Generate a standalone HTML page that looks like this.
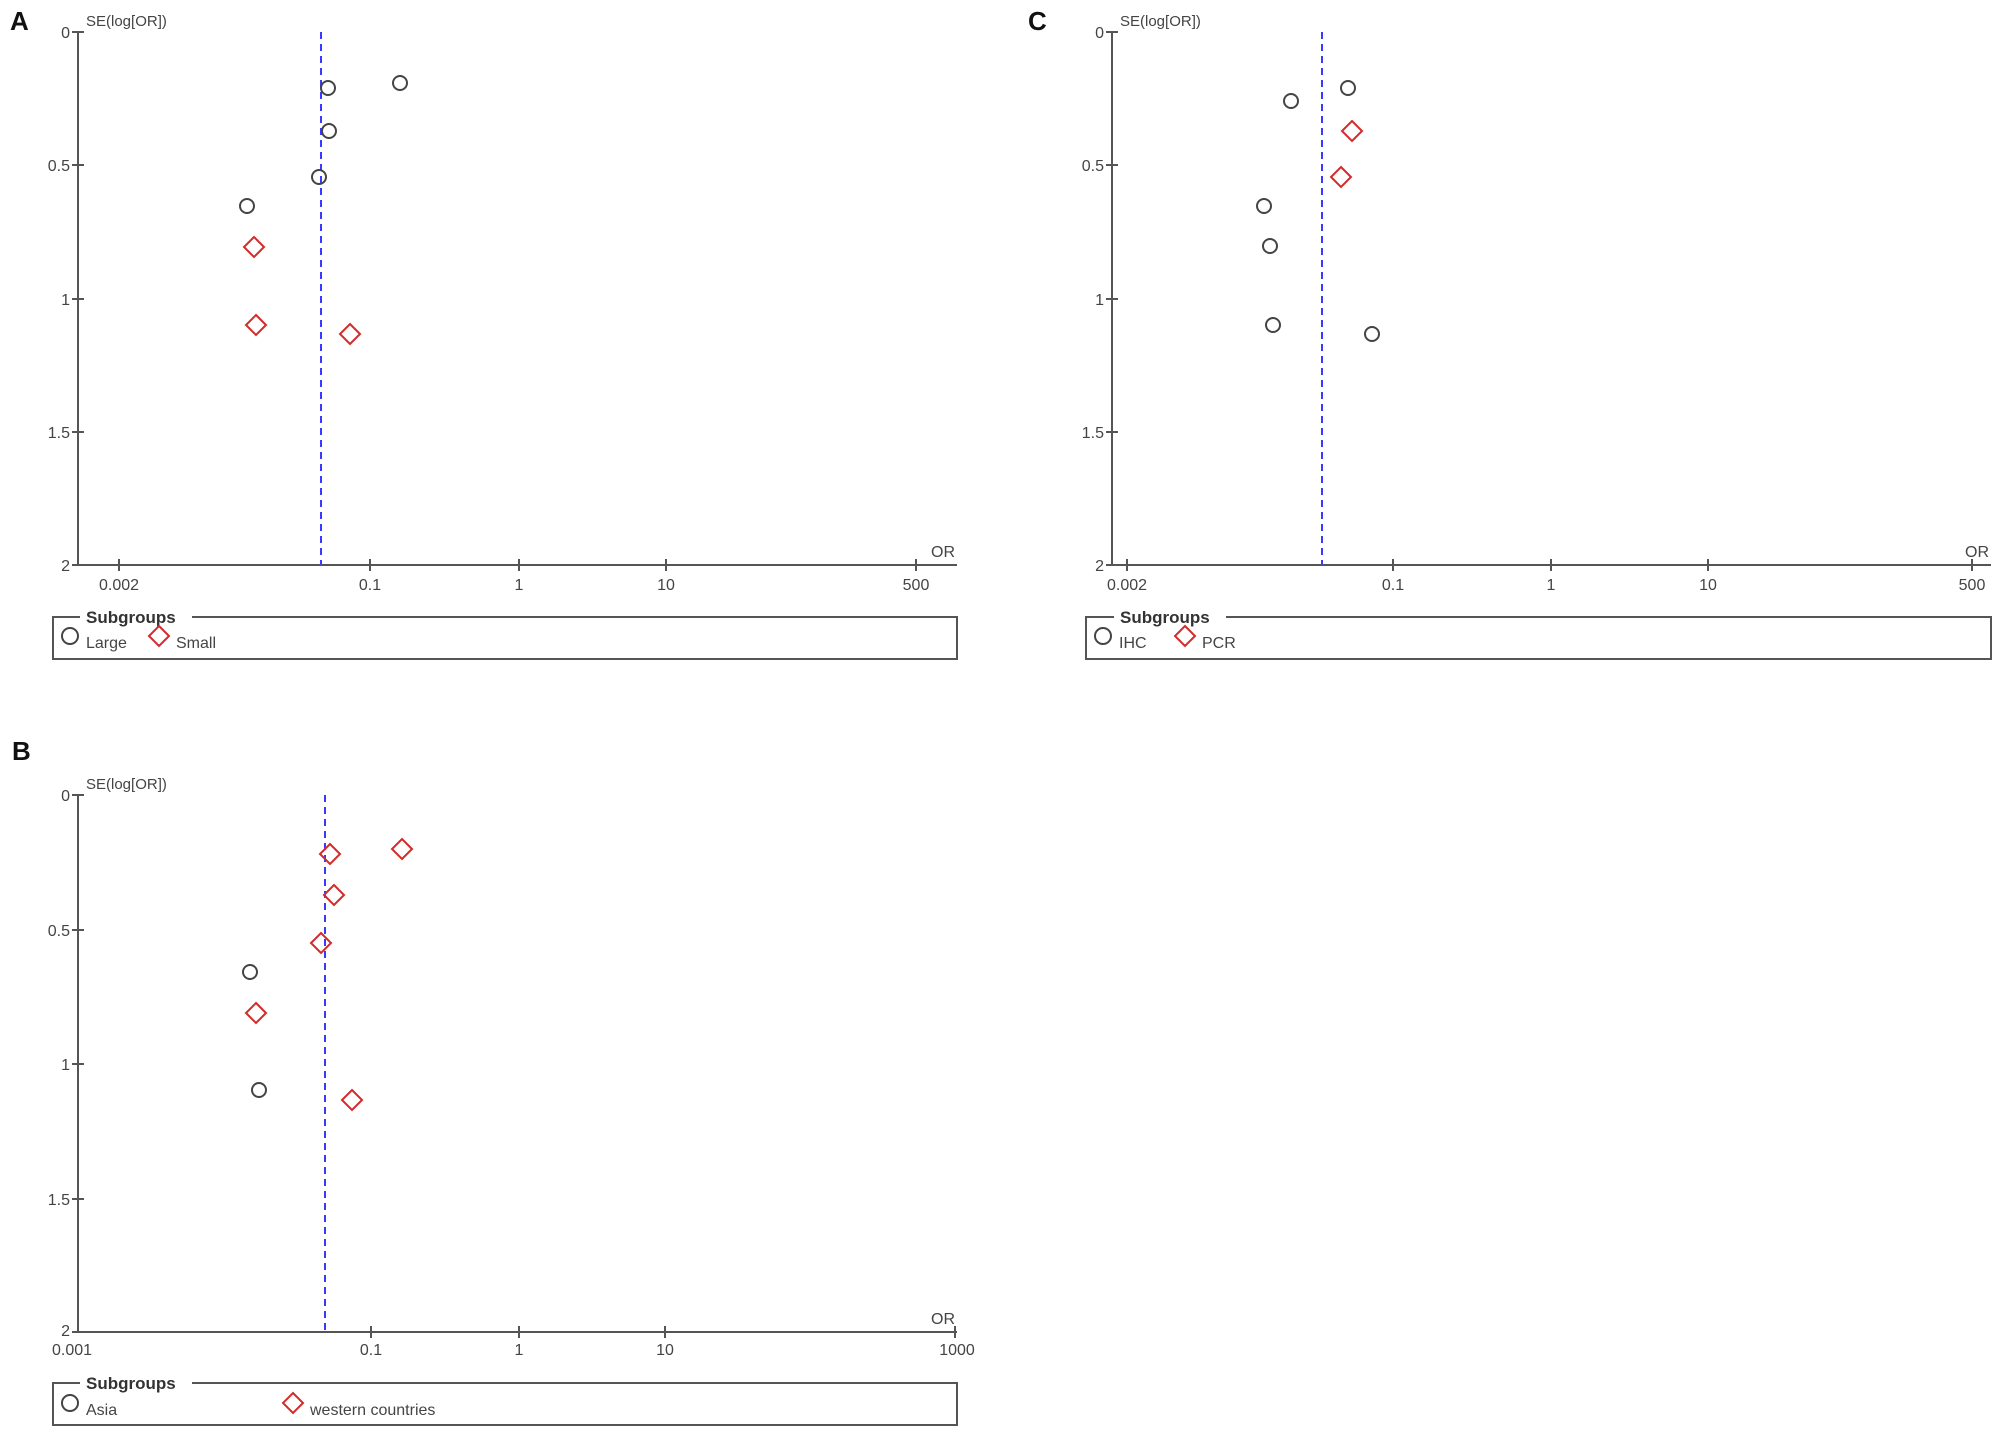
<!DOCTYPE html>
<html><head><meta charset="utf-8"><style>
html,body{margin:0;padding:0;background:#fff}
svg{display:block}
text{font-family:"Liberation Sans",Arial,sans-serif}
.t{font-size:16px;fill:#444}
.ax{stroke:#555;stroke-width:2;fill:none}
.c{fill:none;stroke:#444;stroke-width:2}
.d{fill:none;stroke:#d42a2a;stroke-width:2}
.dash{stroke:#3a3aff;stroke-width:2;stroke-dasharray:7,5}
.lab{font-size:26px;font-weight:bold;fill:#111}
.sg{font-size:17px;font-weight:bold;fill:#333}
</style></head><body>
<svg width="2008" height="1442" viewBox="0 0 2008 1442" xmlns="http://www.w3.org/2000/svg">
<defs>
<path id="dm" d="M0,-10 L10,0 L0,10 L-10,0 Z"/>
</defs>

<!-- Panel A -->
<text class="lab" x="10" y="30">A</text>
<text class="t" x="86" y="26" style="font-size:15px">SE(log[OR])</text>
<path class="ax" d="M78,32 V565 H957"/>
<g class="ax">
<path d="M72,32H84 M72,165H84 M72,299H84 M72,432H84 M72,565H84"/>
<path d="M119,559V571 M370,559V571 M519,559V571 M666,559V571 M916,559V571"/>
</g>
<g class="t" text-anchor="end">
<text x="70" y="38">0</text><text x="70" y="171">0.5</text><text x="70" y="305">1</text><text x="70" y="438">1.5</text><text x="70" y="571">2</text>
</g>
<g class="t" text-anchor="middle">
<text x="119" y="590">0.002</text><text x="370" y="590">0.1</text><text x="519" y="590">1</text><text x="666" y="590">10</text><text x="916" y="590">500</text>
</g>
<text class="t" x="943" y="557" text-anchor="middle">OR</text>
<line class="dash" x1="321" y1="32" x2="321" y2="565"/>
<g class="c"><circle cx="328" cy="88" r="7"/><circle cx="400" cy="83" r="7"/><circle cx="329" cy="131" r="7"/><circle cx="319" cy="177" r="7"/><circle cx="247" cy="206" r="7"/></g>
<g class="d"><use href="#dm" x="254" y="247"/><use href="#dm" x="256" y="325"/><use href="#dm" x="350" y="334"/></g>
<path class="ax" d="M80,617 H53 V659 H957 V617 H192"/>
<text class="sg" x="86" y="623">Subgroups</text>
<circle class="c" cx="70" cy="636" r="8"/>
<text class="t" x="86" y="648">Large</text>
<use class="d" href="#dm" x="159" y="636"/>
<text class="t" x="176" y="648">Small</text>

<!-- Panel C -->
<text class="lab" x="1028" y="30">C</text>
<text class="t" x="1120" y="26" style="font-size:15px">SE(log[OR])</text>
<path class="ax" d="M1112,32 V565 H1991"/>
<g class="ax">
<path d="M1106,32H1118 M1106,165H1118 M1106,299H1118 M1106,432H1118 M1106,565H1118"/>
<path d="M1127,559V571 M1393,559V571 M1551,559V571 M1708,559V571 M1972,559V571"/>
</g>
<g class="t" text-anchor="end">
<text x="1104" y="38">0</text><text x="1104" y="171">0.5</text><text x="1104" y="305">1</text><text x="1104" y="438">1.5</text><text x="1104" y="571">2</text>
</g>
<g class="t" text-anchor="middle">
<text x="1127" y="590">0.002</text><text x="1393" y="590">0.1</text><text x="1551" y="590">1</text><text x="1708" y="590">10</text><text x="1972" y="590">500</text>
</g>
<text class="t" x="1977" y="557" text-anchor="middle">OR</text>
<line class="dash" x1="1322" y1="32" x2="1322" y2="565"/>
<g class="c"><circle cx="1291" cy="101" r="7"/><circle cx="1348" cy="88" r="7"/><circle cx="1264" cy="206" r="7"/><circle cx="1270" cy="246" r="7"/><circle cx="1273" cy="325" r="7"/><circle cx="1372" cy="334" r="7"/></g>
<g class="d"><use href="#dm" x="1352" y="131"/><use href="#dm" x="1341" y="177"/></g>
<path class="ax" d="M1114,617 H1086 V659 H1991 V617 H1226"/>
<text class="sg" x="1120" y="623">Subgroups</text>
<circle class="c" cx="1103" cy="636" r="8"/>
<text class="t" x="1119" y="648">IHC</text>
<use class="d" href="#dm" x="1185" y="636"/>
<text class="t" x="1202" y="648">PCR</text>

<!-- Panel B -->
<text class="lab" x="12" y="760">B</text>
<text class="t" x="86" y="789" style="font-size:15px">SE(log[OR])</text>
<path class="ax" d="M78,795 V1332 H957"/>
<g class="ax">
<path d="M72,795H84 M72,930H84 M72,1064H84 M72,1199H84 M72,1332H84"/>
<path d="M371,1326V1338 M519,1326V1338 M665,1326V1338 M955,1326V1338"/>
</g>
<g class="t" text-anchor="end">
<text x="70" y="801">0</text><text x="70" y="936">0.5</text><text x="70" y="1070">1</text><text x="70" y="1205">1.5</text><text x="70" y="1336">2</text>
</g>
<g class="t" text-anchor="middle">
<text x="72" y="1355">0.001</text><text x="371" y="1355">0.1</text><text x="519" y="1355">1</text><text x="665" y="1355">10</text><text x="957" y="1355">1000</text>
</g>
<text class="t" x="943" y="1324" text-anchor="middle">OR</text>
<line class="dash" x1="325" y1="795" x2="325" y2="1332"/>
<g class="c"><circle cx="250" cy="972" r="7"/><circle cx="259" cy="1090" r="7"/></g>
<g class="d"><use href="#dm" x="330" y="854"/><use href="#dm" x="402" y="849"/><use href="#dm" x="334" y="895"/><use href="#dm" x="321" y="943"/><use href="#dm" x="256" y="1013"/><use href="#dm" x="352" y="1100"/></g>
<path class="ax" d="M80,1383 H53 V1425 H957 V1383 H192"/>
<text class="sg" x="86" y="1389">Subgroups</text>
<circle class="c" cx="70" cy="1403" r="8"/>
<text class="t" x="86" y="1415">Asia</text>
<use class="d" href="#dm" x="293" y="1403"/>
<text class="t" x="310" y="1415">western countries</text>
</svg>
</body></html>
